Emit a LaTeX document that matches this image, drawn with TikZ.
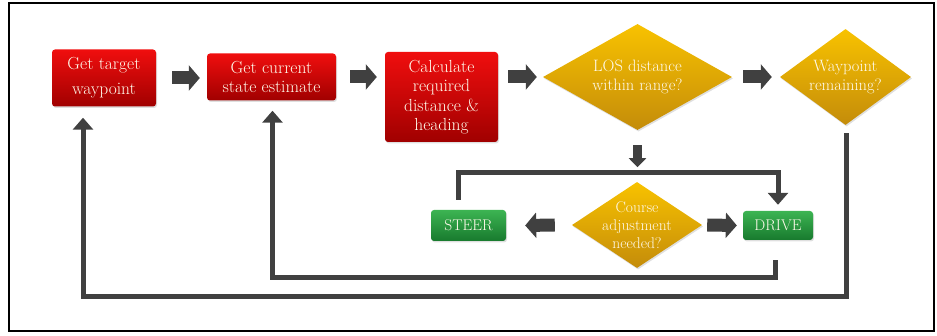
\documentclass[tikz,border=0pt]{standalone}
\usepackage{tikz}
\usetikzlibrary{shapes.geometric,arrows.meta,calc,shadows}
\definecolor{redtop}{RGB}{240,14,14}
\definecolor{redbot}{RGB}{160,0,0}
\definecolor{goldtop}{RGB}{248,194,0}
\definecolor{goldbot}{RGB}{196,140,10}
\definecolor{greentop}{RGB}{60,180,82}
\definecolor{greenbot}{RGB}{24,122,46}
\definecolor{flowgray}{RGB}{64,64,64}
\definecolor{cream}{RGB}{255,250,235}
\newcommand{\boxfont}{\fontsize{17.5}{19.5}\selectfont}
\newcommand{\askfont}{\fontsize{16.5}{19.5}\selectfont}

\begin{document}
\begin{tikzpicture}[x=1pt,y=-1pt]

    \tikzstyle{box}    = [rectangle, rounded corners=3pt, inner sep=0pt, align=center, text=cream, font=\boxfont,
                          drop shadow={opacity=0.25, shadow xshift=1pt, shadow yshift=-1.5pt}]
    \tikzstyle{redbox}   = [box, top color=redtop, bottom color=redbot]
    \tikzstyle{greenbox} = [box, top color=greentop, bottom color=greenbot, font=\fontsize{15.5}{18}\selectfont]
    \tikzstyle{query}  = [diamond, inner sep=0pt, top color=goldtop, bottom color=goldbot,
                          drop shadow={opacity=0.25, shadow xshift=1pt, shadow yshift=-1.5pt}]
    \tikzstyle{asktext} = [text=cream, align=center, font=\askfont]
    \tikzstyle{flow}   = [draw=flowgray, line width=5pt, -{Triangle[width=20pt,length=12pt]}]
    \tikzstyle{blockarrow} = [draw=flowgray, line width=13pt, -{Triangle[width=25pt,length=11pt]}]
    \tikzstyle{smallarrow} = [draw=flowgray, line width=9pt, -{Triangle[width=17pt,length=9pt]}]

    \useasboundingbox (0,0) rectangle (937,336);
    \draw[line width=2.5pt] (9,3) rectangle (934,331);

    \node [redbox, minimum width=104pt, minimum height=57pt, font=\fontsize{17.5}{25}\selectfont](tgt) at (104,78) {Get target\\waypoint};
    \node [redbox, minimum width=129pt, minimum height=47pt](cur) at (271.5,77) {Get current\\state estimate};
    \node [redbox, minimum width=113pt, minimum height=90pt](req) at (441.5,97) {Calculate\\required\\distance \&\\heading};
    \node [query, minimum width=189pt, minimum height=106pt,
           label={[asktext]center:LOS distance\\within range?}](los) at (637.5,77) {};
    \node [query, minimum width=131pt, minimum height=96pt,
           label={[asktext]center:Waypoint\\remaining?}](wpt) at (845.5,77) {};
    \node [greenbox, minimum width=75pt, minimum height=31pt](steer) at (468.5,225.5) {STEER};
    \node [query, minimum width=130pt, minimum height=86pt,
           label={[asktext, font=\fontsize{15.5}{18}\selectfont]center:Course\\adjustment\\needed?}](course) at (637,225) {};
    \node [greenbox, minimum width=70pt, minimum height=29pt](drive) at (778,225.5) {DRIVE};

    \draw [blockarrow] ($(tgt.east)+(16,0)$) -- ($(tgt.east -| cur.west)+(-7,0)$);
    \draw [blockarrow] ($(cur.east)+(14,0)$) -- ($(cur.east -| req.west)+(-8,0)$);
    \draw [blockarrow] ($(los.west -| req.east)+(10,0)$) -- ($(los.west)+(-6,0)$);
    \draw [blockarrow] ($(los.east)+(11,0)$) -- ($(wpt.west)+(-8,0)$);
    \draw [smallarrow] ($(los.south)+(0,15)$) -- ($(los.south)+(0,37)$);
    \draw [blockarrow] ($(course.west)+(-17,0)$) -- ($(steer.east)+(19,0)$);
    \draw [blockarrow] ($(course.east)+(5,0)$) -- ($(drive.west)+(-6,0)$);

    % loops back
    \draw [flow] ($(steer.north)+(-10,-10)$) -- ($(steer.north)+(-10,-37)$) -| ($(drive.north)+(0,-6)$);
    \draw [flow] ($(drive.south)+(-3,20)$) -- ($(drive.south)+(-3,37)$) -| ($(cur.south)+(1,10)$);
    \draw [flow] ($(wpt.south)+(1,8)$) -- ($(wpt.south)+(1,171)$) -| ($(tgt.south)+(-21,11)$);
\end{tikzpicture}
\end{document}
